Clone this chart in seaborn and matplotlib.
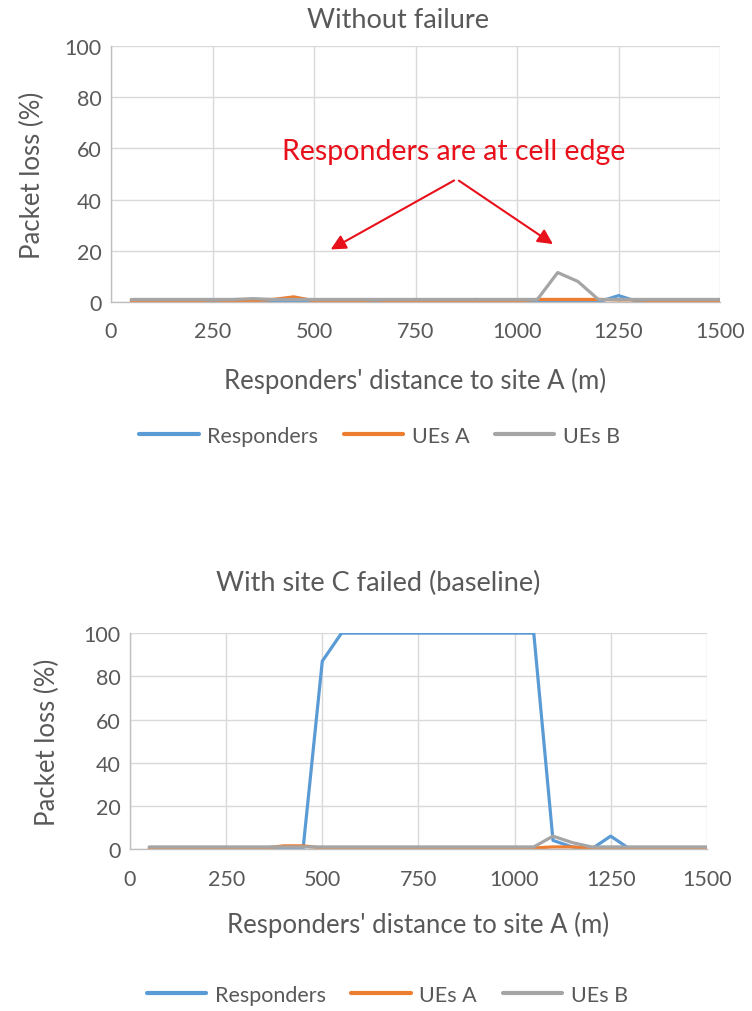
import numpy as np
import pandas as pd
import matplotlib
matplotlib.use("Agg")
import matplotlib.pyplot as plt
import seaborn as sns

# distances (m), one sample every 50 m
distance = [50, 100, 150, 200, 250, 300, 350, 400, 450, 500,
            550, 600, 650, 700, 750, 800, 850, 900, 950, 1000,
            1050, 1100, 1150, 1200, 1250, 1300, 1350, 1400, 1450, 1500]

# --- Without failure ---
resp_nofail = [0, 0, 0, 0, 0, 0, 0, 0, 0, 0,
               0, 0, 0, 0, 0, 0, 0, 1, 0, 0,
               0, 0, 0, 0, 2.5, 0, 0, 0, 0, 0]
uea_nofail = [0.5, 0.5, 0.5, 0.5, 0.8, 0.5, 0.5, 1, 2, 0.5,
              0.5, 0.5, 0.8, 0.5, 0.5, 0.5, 0.5, 0.5, 0.5, 0.5,
              1, 1, 1, 1, 0.8, 0.8, 0.5, 0.5, 0.5, 0.5]
ueb_nofail = [1, 1, 1, 1, 1, 1, 1.3, 1, 1, 1,
              1, 1, 1, 1, 1, 1, 1, 1, 1, 1,
              1, 11.5, 8, 1, 1, 1, 1, 1, 1, 1]

# --- With site C failed (baseline) ---
resp_fail = [0, 0, 0, 0, 0, 0, 0, 0, 0, 87,
             100, 100, 100, 100, 100, 100, 100, 100, 100, 100,
             100, 4, 1, 0, 6, 0, 0, 0, 0, 0]
uea_fail = [0.5, 0.5, 0.5, 0.5, 0.5, 0.5, 0.5, 1.5, 1.5, 0.5,
            0.5, 0.5, 0.5, 0.5, 0.5, 0.5, 0.5, 0.5, 0.5, 0.5,
            0.5, 1, 1, 0.5, 0.5, 0.5, 0.5, 0.5, 0.5, 0.5]
ueb_fail = [1, 1, 1, 1, 1, 1, 1, 1, 1, 1,
            1, 1, 1, 1, 1, 1, 1, 1, 1, 1,
            1, 6, 3, 1, 1, 1, 1, 1, 1, 1]

series_names = ["Responders", "UEs A", "UEs B"]
colors = ["#5B9BD5", "#ED7D31", "#A5A5A5"]
x_ticks = [0, 250, 500, 750, 1000, 1250, 1500]
y_ticks = [0, 20, 40, 60, 80, 100]

sns.set_style("white")
plt.rcParams["font.family"] = ["Lato", "DejaVu Sans"]
txt = "#595959"


def to_long(resp, uea, ueb):
    frames = []
    for name, vals in zip(series_names, [resp, uea, ueb]):
        frames.append(pd.DataFrame({"dist": distance, "loss": vals, "series": name}))
    return pd.concat(frames, ignore_index=True)


def style_axes(ax, ylab_x, xlab_y):
    ax.set_xlim(0, 1500)
    ax.set_ylim(0, 100)
    ax.set_xticks(x_ticks)
    ax.set_yticks(y_ticks)
    ax.grid(True, color="#D9D9D9", linewidth=1)
    ax.set_axisbelow(True)
    for s in ["top", "right"]:
        ax.spines[s].set_visible(False)
    for s in ["left", "bottom"]:
        ax.spines[s].set_color("#BFBFBF")
        ax.spines[s].set_linewidth(1)
    ax.tick_params(axis="y", length=0, labelsize=15.5, colors=txt, pad=7)
    ax.tick_params(axis="x", length=0, labelsize=15.5, colors=txt, pad=14)
    ax.set_xlabel("Responders' distance to site A (m)", fontsize=18.5, color=txt)
    ax.set_ylabel("Packet loss (%)", fontsize=18.5, color=txt)
    ax.yaxis.set_label_coords(ylab_x, 0.5)
    ax.xaxis.set_label_coords(0.5, xlab_y)


fig = plt.figure(figsize=(7.52, 10.12), dpi=100)

# top chart
ax1 = fig.add_axes([0.1476, 0.7006, 0.81, 0.253])
sns.lineplot(data=to_long(resp_nofail, uea_nofail, ueb_nofail), x="dist", y="loss",
             hue="series", palette=colors, linewidth=2.3, ax=ax1, legend=False)
style_axes(ax1, -0.109, -0.252)
ax1.text(845, 59, "Responders are at cell edge", color="#E8101A", fontsize=20.5,
         ha="center", va="center")
for tip in [(535, 20), (1094, 22)]:
    ax1.annotate("", xy=tip, xytext=(851, 48),
                 arrowprops=dict(arrowstyle="-|>,head_length=0.9,head_width=0.45",
                                 color="#E8101A", lw=1.5))

# bottom chart
ax2 = fig.add_axes([0.1729, 0.160, 0.767, 0.2134])
sns.lineplot(data=to_long(resp_fail, uea_fail, ueb_fail), x="dist", y="loss",
             hue="series", palette=colors, linewidth=2.3, ax=ax2, legend=False)
style_axes(ax2, -0.121, -0.285)

fig.text(398 / 752, 1 - 20 / 1012, "Without failure", fontsize=19.5, color=txt,
         ha="center", va="center")
fig.text(378 / 752, 1 - 583 / 1012, "With site C failed (baseline)", fontsize=19.5,
         color=txt, ha="center", va="center")

handles = [plt.Line2D([], [], color=c, linewidth=3) for c in colors]
for xpos, ypos in [(0.505, 1 - 437 / 1012), (0.515, 1 - 996 / 1012)]:
    leg = fig.legend(handles, series_names, loc="center", bbox_to_anchor=(xpos, ypos),
                     ncol=3, frameon=False, fontsize=15.5, handlelength=2.75,
                     columnspacing=1.2, handletextpad=0.4)
    for t in leg.get_texts():
        t.set_color(txt)

fig.savefig("out.png", dpi=100)
